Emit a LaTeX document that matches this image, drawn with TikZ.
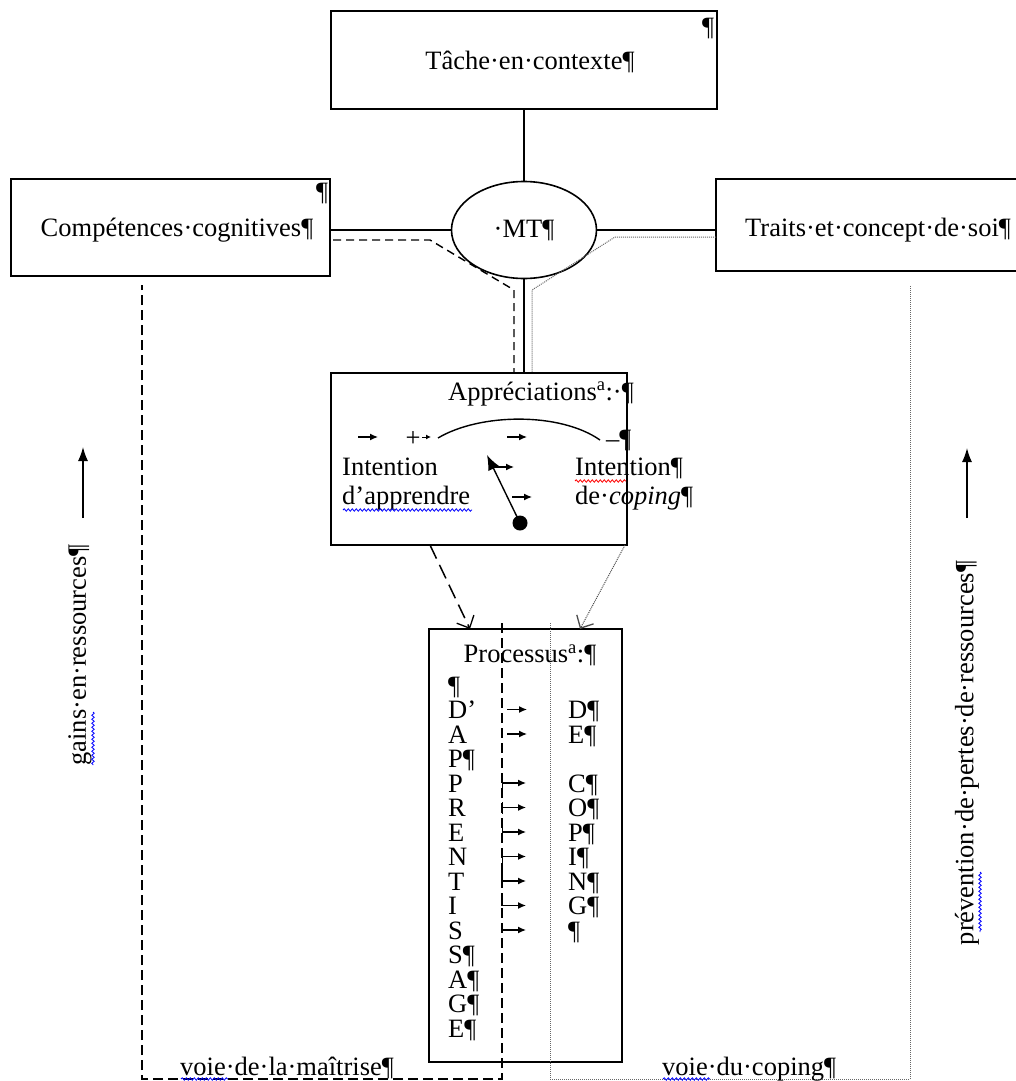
\documentclass[tikz,border=0pt]{standalone}
\usepackage{fontspec}
\setmainfont{Liberation Serif}
\usetikzlibrary{arrows.meta,shapes.geometric,decorations.pathmorphing,calc}

\begin{document}
\begin{tikzpicture}[x=1pt,y=-1pt,
  every node/.style={font=\fontsize{26.5}{30}\selectfont, inner sep=0pt},
  frame/.style={draw, line width=1.6pt},
  link/.style={line width=1.4pt},
  mastery/.style={line width=1.7pt, dash pattern=on 10pt off 5pt},
  longdash/.style={line width=1.5pt, dash pattern=on 15pt off 7pt},
  copingline/.style={line width=1pt, black!60, dash pattern=on 1pt off 1pt},
  wavy/.style={decorate, decoration={snake, amplitude=1.2pt, segment length=4pt}, line width=0.8pt},
  tick/.style={line width=1.3pt, -{Latex[length=8pt,width=7pt]}},
  bartick/.style={line width=1.3pt, {Bar[width=12pt,line width=1.2pt]}-{Latex[length=8pt,width=7pt]}},
  openhead/.style={-{Straight Barb[length=10pt,width=19pt,line width=1.3pt]}},
  txt/.style={anchor=base west}]

\fill[white] (0,0) rectangle (1016,1081);
\useasboundingbox (0,0) rectangle (1016,1081);

% ---- boxes ----
\node[frame, minimum width=386pt, minimum height=98pt] (tache) at (524,60) {};
\node (tacheT) at (530,62) {Tâche·en·contexte¶};
\node (tacheP) at (708,28) {¶};

\node[frame, minimum width=319pt, minimum height=97pt] (comp) at (170.5,227.5) {};
\node (compT) at (177,230) {Compétences·cognitives¶};
\node (compP) at (322,193) {¶};

\node[frame, minimum width=302pt, minimum height=92pt] (traits) at (867,225) {};
\node (traitsT) at (878,230) {Traits·et·concept·de·soi¶};

\node[draw, ellipse, line width=1.6pt, minimum width=145pt, minimum height=97pt] (mt) at (524,230) {·MT¶};

\node[frame, minimum width=296pt, minimum height=172pt] (appr) at (479,459) {};
\node[frame, minimum width=193pt, minimum height=433pt] (proc) at (525.5,845.5) {};

% ---- solid links around MT ----
\draw[link] (tache.south -| mt.north) -- (mt.north);
\draw[link] (mt.west) -- (mt.west -| comp.east);
\draw[link] (mt.east) -- (mt.east -| traits.west);
\draw[link] (mt.south) -- (mt.south |- appr.north);

% ---- mastery path (dashed) ----
\coordinate (mA) at (333,240);
\coordinate (mB) at (430,240);
\coordinate (mC) at (514,290);
\draw[mastery, line width=1.4pt, dash pattern=on 8pt off 5pt] (mA) -- (mB) -- (mC) -- (mC |- appr.north);

% ---- coping path (dotted) ----
\coordinate (cA) at (716,237);
\coordinate (cB) at (615,237);
\coordinate (cC) at (532,290);
\draw[copingline] (cA) -- (cB) -- (cC) -- (cC |- appr.north);

% ---- appraisal box content ----
\node[txt] (apprT) at (448,400) {Appréciations\textsuperscript{a}:·¶};
\coordinate (a1s) at (358,437); \coordinate (a1e) at (378,437);
\draw[tick] (a1s) -- (a1e);
\node (plus) at (413,439) {+};
\coordinate (a2s) at (422,437); \coordinate (a2e) at (431,437);
\draw[line width=1pt, -{Latex[length=5pt,width=5pt]}] (a2s) -- (a2e);
\coordinate (arcS) at (438,438); \coordinate (arcE) at (600,440);
\draw[link] (arcS) .. controls (480,413) and (560,412) .. (arcE);
\coordinate (a3s) at (507,437); \coordinate (a3e) at (527,437);
\draw[tick] (a3s) -- (a3e);
\node[txt] (minus) at (606,447) {–¶};

\node[txt] (intL1) at (342,475) {Intention};
\node[txt] (intL2) at (342,504) {d’apprendre};
\node[txt] (intR1) at (575,475) {Intention¶};
\node[txt] (intR2) at (575,504) {de·\textit{coping}¶};
\draw[wavy, blue] (343,510) -- (472,510);
\draw[wavy, red] (575,481) -- (626,481);

\coordinate (knob) at (520,523);
\coordinate (needle) at (487,455);
\draw[line width=1.4pt, -{Latex[length=15pt,width=12pt]}] (knob) -- (needle);
\fill (knob) circle (7.5pt);
\coordinate (n1s) at (493,467); \coordinate (n1e) at (514,467);
\draw[tick] (n1s) -- (n1e);
\coordinate (n2s) at (512,497); \coordinate (n2e) at (532,497);
\draw[tick] (n2s) -- (n2e);

% ---- arrows into the process box ----
\coordinate (dA) at (430,545);
\coordinate (dB) at (470,629);
\draw[longdash, openhead] (dA) -- (dB);
\coordinate (pA) at (625,545);
\coordinate (pB) at (580,629);
\draw[copingline, black!70, openhead] (pA) -- (pB);

% ---- big return loops ----
\coordinate (mTop) at (502,623);
\coordinate (mBot) at (502,1079);
\coordinate (mLeft) at (142,1079);
\coordinate (mUp) at (142,285);
\draw[mastery] (mTop) -- (mBot) -- (mLeft) -- (mUp);

\coordinate (cTop) at (550,623);
\coordinate (cBot) at (550,1079);
\coordinate (cRight) at (910,1079);
\coordinate (cUp) at (910,285);
\draw[copingline] (cTop) -- (cBot) -- (cRight) -- (cUp);

% ---- process box content ----
\node (procT) at (530,655) {Processus\textsuperscript{a}:¶};
\foreach \t [count=\i from 0] in {¶,D’,A,P¶,P,R,E,N,T,I,S,S¶,A¶,G¶,E¶}
  \node[txt] (L\i) at (448,{694+24.5*\i}) {\t};
\foreach \t/\i in {D¶/1,E¶/2,C¶/4,O¶/5,P¶/6,I¶/7,N¶/8,G¶/9,¶/10}
  \node[txt] (R\i) at (568,{694+24.5*\i}) {\t};

\foreach \i in {1,2}
  \draw[tick] (507,{685+24.5*\i}) -- (527,{685+24.5*\i});
\foreach \i in {4,5,6,7}
  \draw[bartick] (502,{685+24.5*\i}) -- (526,{685+24.5*\i});
\foreach \i in {8,9}
  \draw[tick] (502,{674+24.5*\i}) |- (526,{685+24.5*\i});
\draw[tick] (502,930) -- (526,930);

% ---- side labels ----
\node[rotate=90] (gains) at (80,655) {gains·en·ressources¶};
\draw[wavy, blue] (93,712) -- (93,765);
\coordinate (gU0) at (83,518); \coordinate (gU1) at (83,447);
\draw[line width=1.4pt, -{Latex[length=14pt,width=10pt]}] (gU0) -- (gU1);

\node[rotate=90] (prev) at (967,753) {prévention·de·pertes·de·ressources¶};
\draw[wavy, blue] (980,872) -- (980,932);
\coordinate (pU0) at (967,518); \coordinate (pU1) at (967,448);
\draw[line width=1.4pt, -{Latex[length=14pt,width=10pt]}] (pU0) -- (pU1);

% ---- path names ----
\node[txt] (voieM) at (180,1075) {voie·de·la·maîtrise¶};
\draw[wavy, blue] (181,1079) -- (228,1079);
\node[txt] (voieC) at (662,1075) {voie·du·coping¶};
\draw[wavy, blue] (663,1079) -- (710,1079);

\end{tikzpicture}
\end{document}
